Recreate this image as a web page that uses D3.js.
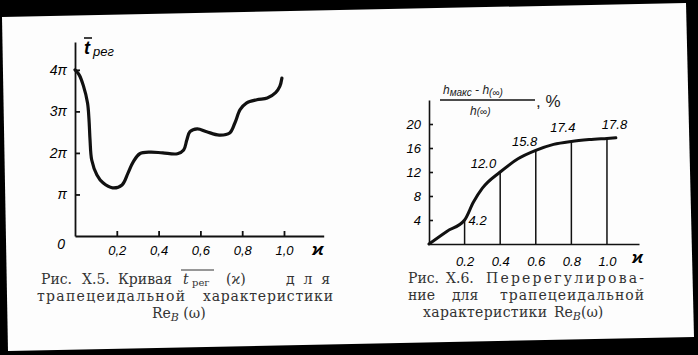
<!DOCTYPE html>
<html>
<head>
<meta charset="utf-8">
<script src="https://cdn.jsdelivr.net/npm/d3@7"></script>
<style>
body { margin: 0; background: #000; }
svg { display: block; }
.tick text { font-family: 'Liberation Sans', sans-serif; font-style: italic; }
</style>
</head>
<body>
<svg width="698" height="355"></svg>
<script>
// Fig X.5: settling time vs kappa (y in units of pi)
const kappaA = [0, 0.02, 0.04, 0.06, 0.067, 0.072, 0.08, 0.105, 0.134, 0.18, 0.225, 0.254, 0.278, 0.31, 0.36, 0.42, 0.49, 0.52, 0.535, 0.55, 0.585, 0.63, 0.69, 0.74, 0.765, 0.79, 0.82, 0.87, 0.92, 0.96, 0.98, 0.99]
const tReg = [4.0, 3.88, 3.62, 3.2, 2.8, 2.31, 1.83, 1.47, 1.28, 1.16, 1.23, 1.52, 1.78, 1.98, 2.02, 2.0, 1.98, 2.07, 2.31, 2.51, 2.58, 2.51, 2.43, 2.48, 2.72, 3.04, 3.2, 3.28, 3.32, 3.45, 3.6, 3.8]
const yTicksA = [0, 1, 2, 3, 4]
const yLabelsA = ['0', 'π', '2π', '3π', '4π']
const xTicksA = [0.2, 0.4, 0.6, 0.8, 1.0]
const xLabelsA = ['0,2', '0,4', '0,6', '0,8', '1,0']

// Fig X.6: overshoot, %
const kappaB = [0, 0.1, 0.2, 0.25, 0.3, 0.4, 0.5, 0.6, 0.7, 0.8, 0.9, 1.0, 1.05]
const overshoot = [0, 2.1, 4.0, 7.0, 9.3, 12.0, 14.2, 15.6, 16.6, 17.1, 17.4, 17.6, 17.7]
const markK = [0.2, 0.4, 0.6, 0.8, 1.0]
const markV = [4.2, 12.0, 15.8, 17.4, 17.8]
const yTicksB = [4, 8, 12, 16, 20]
const xTicksB = [0.2, 0.4, 0.6, 0.8, 1.0]

const svg = d3.select('svg')

// scanned page on black
svg.append('polygon')
	.attr('points', '2,17 686,3 694,337 8,351')
	.attr('fill', '#fdfdfd')

const ink = '#111'
const serif = "'DejaVu Serif', 'Liberation Serif', serif"
const sans = "'Liberation Sans', sans-serif"
const capInk = '#333'

// caption word placer: [text, x, width]
const words = (g, y, list) => list.forEach(([t, x, w]) => {
	const el = g.append('text').attr('x', x).attr('y', y).text(t)
	if (w) el.attr('textLength', w).attr('lengthAdjust', 'spacing')
})

// ---------- left chart ----------
const xA = d3.scaleLinear().domain([0, 1.19]).range([75, 323.7])
const yA = d3.scaleLinear().domain([0, 4.67]).range([236, 42])

const gA = svg.append('g')

gA.append('g')
	.attr('transform', `translate(0, ${yA(0)})`)
	.call(d3.axisBottom(xA).tickValues(xTicksA).tickSizeInner(-5).tickSizeOuter(0).tickPadding(10)
		.tickFormat((d, i) => xLabelsA[i]))
	.call(g => g.selectAll('text').attr('font-size', 13))

gA.append('g')
	.attr('transform', `translate(${xA(0)}, 0)`)
	.call(d3.axisLeft(yA).tickValues(yTicksA).tickSizeInner(-5).tickSizeOuter(0).tickPadding(8)
		.tickFormat((d, i) => yLabelsA[i]))
	.call(g => g.selectAll('text').attr('font-size', 14))
	.call(g => g.selectAll('.tick').filter(d => d === 0).select('line').remove())
	.call(g => g.selectAll('.tick').filter(d => d === 0).select('text').attr('dy', '0.9em').attr('x', -10))

gA.selectAll('.domain, .tick line').attr('stroke', ink).attr('stroke-width', 1.8)

gA.append('path')
	.datum(kappaA.map((k, i) => [k, tReg[i]]))
	.attr('fill', 'none')
	.attr('stroke', ink)
	.attr('stroke-width', 3.2)
	.attr('stroke-linecap', 'round')
	.attr('d', d3.line().x(d => xA(d[0])).y(d => yA(d[1])).curve(d3.curveCatmullRom.alpha(0.5)))

gA.append('text').attr('x', 312).attr('y', 255)
	.attr('font-family', sans).attr('font-style', 'italic').attr('font-weight', 'bold').attr('font-size', 17)
	.text('ϰ')

// y title: t-bar with subscript
gA.append('text').attr('x', 84).attr('y', 54)
	.attr('font-family', sans).attr('font-style', 'italic').attr('font-size', 18).attr('font-weight', 'bold')
	.text('t')
gA.append('line').attr('x1', 84).attr('x2', 92).attr('y1', 38).attr('y2', 38)
	.attr('stroke', ink).attr('stroke-width', 1.6)
gA.append('text').attr('x', 93).attr('y', 56)
	.attr('font-family', sans).attr('font-style', 'italic').attr('font-size', 13)
	.text('рег')

// caption X.5
const capA = svg.append('g').attr('font-family', serif).attr('fill', capInk).attr('font-size', 14)
words(capA, 284, [['Рис.', 41], ['X.5.', 82], ['Кривая', 118], ['(ϰ)', 226], ['для', 286, 44]])
capA.append('text').attr('x', 183).attr('y', 284).attr('font-style', 'italic').text('t')
capA.append('text').attr('x', 192).attr('y', 286).attr('font-size', 10).text('рег')
capA.append('line').attr('x1', 181).attr('x2', 214).attr('y1', 270).attr('y2', 270).attr('stroke', capInk).attr('stroke-width', 1)
words(capA, 301, [['трапецеидальной', 37, 148], ['характеристики', 203, 130]])
const capA3 = capA.append('text').attr('x', 152).attr('y', 318)
capA3.append('tspan').text('Re')
capA3.append('tspan').attr('font-style', 'italic').attr('font-size', 11).attr('dy', 3).text('B')
capA3.append('tspan').attr('dy', -3).text('  (ω)')

// ---------- right chart ----------
const xB = d3.scaleLinear().domain([0, 1.18]).range([429, 639])
const yB = d3.scaleLinear().domain([0, 24]).range([244, 100])

const gB = svg.append('g')

gB.append('g')
	.attr('transform', `translate(0, ${yB(0)})`)
	.call(d3.axisBottom(xB).tickValues(xTicksB).tickSize(0).tickPadding(13)
		.tickFormat(d3.format('.1f')))
	.call(g => g.selectAll('text').attr('font-size', 13))

gB.append('g')
	.attr('transform', `translate(${xB(0)}, 0)`)
	.call(d3.axisLeft(yB).tickValues(yTicksB).tickSizeInner(-4).tickSizeOuter(0).tickPadding(8))
	.call(g => g.selectAll('text').attr('font-size', 13))

gB.selectAll('.domain, .tick line').attr('stroke', ink).attr('stroke-width', 1.6)

const lineB = d3.line().x(d => xB(d[0])).y(d => yB(d[1])).curve(d3.curveMonotoneX)

gB.selectAll('line.mark').data(markK)
	.enter().append('line')
	.attr('class', 'mark')
	.attr('x1', d => xB(d)).attr('x2', d => xB(d))
	.attr('y1', yB(0))
	.attr('y2', (d, i) => yB(overshoot[kappaB.indexOf(d)]))
	.attr('stroke', ink).attr('stroke-width', 1.5)

gB.append('path')
	.datum(kappaB.map((k, i) => [k, overshoot[i]]))
	.attr('fill', 'none')
	.attr('stroke', ink)
	.attr('stroke-width', 3)
	.attr('stroke-linecap', 'round')
	.attr('d', lineB)

// value labels beside the marks
const labDx = [4, -4, -4, -5, 4]
const labDy = [6, 4, 3, 8, 8]
const labAnchor = ['start', 'end', 'middle', 'middle', 'middle']
const labShift = [0, 0, -0.04, -0.02, 0.02]
gB.selectAll('text.val').data(markV)
	.enter().append('text')
	.attr('class', 'val')
	.attr('x', (d, i) => xB(markK[i] + labShift[i]) + labDx[i])
	.attr('y', (d, i) => i === 0 ? yB(d) + labDy[i] : yB(d) - labDy[i])
	.attr('text-anchor', (d, i) => labAnchor[i])
	.attr('font-family', sans).attr('font-style', 'italic').attr('font-size', 13)
	.text(d => d.toFixed(1))

gB.append('text').attr('x', 632).attr('y', 263)
	.attr('font-family', sans).attr('font-style', 'italic').attr('font-weight', 'bold').attr('font-size', 16)
	.text('ϰ')

// y title: fraction
const fr = gB.append('g').attr('font-family', sans).attr('font-style', 'italic').attr('fill', '#222')
const num = fr.append('text').attr('x', 443).attr('y', 94).attr('font-size', 12)
num.append('tspan').text('h')
num.append('tspan').attr('font-size', 10).attr('dy', 2).text('макс')
num.append('tspan').attr('dy', -2).text(' - h')
num.append('tspan').attr('font-size', 10).attr('dy', 2).text('(∞)')
fr.append('line').attr('x1', 440).attr('x2', 535).attr('y1', 100).attr('y2', 100).attr('stroke', ink).attr('stroke-width', 1.5)
const den = fr.append('text').attr('x', 470).attr('y', 115).attr('font-size', 12)
den.append('tspan').text('h')
den.append('tspan').attr('font-size', 10).text('(∞)')
fr.append('text').attr('x', 536).attr('y', 107).attr('font-size', 17).attr('font-style', 'normal').text(', %')

// caption X.6
const capB = svg.append('g').attr('font-family', serif).attr('fill', capInk).attr('font-size', 14)
words(capB, 283, [['Рис.', 408], ['X.6.', 446], ['Перерегулирова-', 486, 158]])
words(capB, 300, [['ние', 408], ['для', 452], ['трапецеидальной', 500, 144]])
words(capB, 317, [['характеристики', 423, 124]])
const capB3 = capB.append('text').attr('x', 554).attr('y', 317)
capB3.append('tspan').text('Re')
capB3.append('tspan').attr('font-style', 'italic').attr('font-size', 11).attr('dy', 3).text('B')
capB3.append('tspan').attr('dy', -3).text('(ω)')
</script>
</body>
</html>
